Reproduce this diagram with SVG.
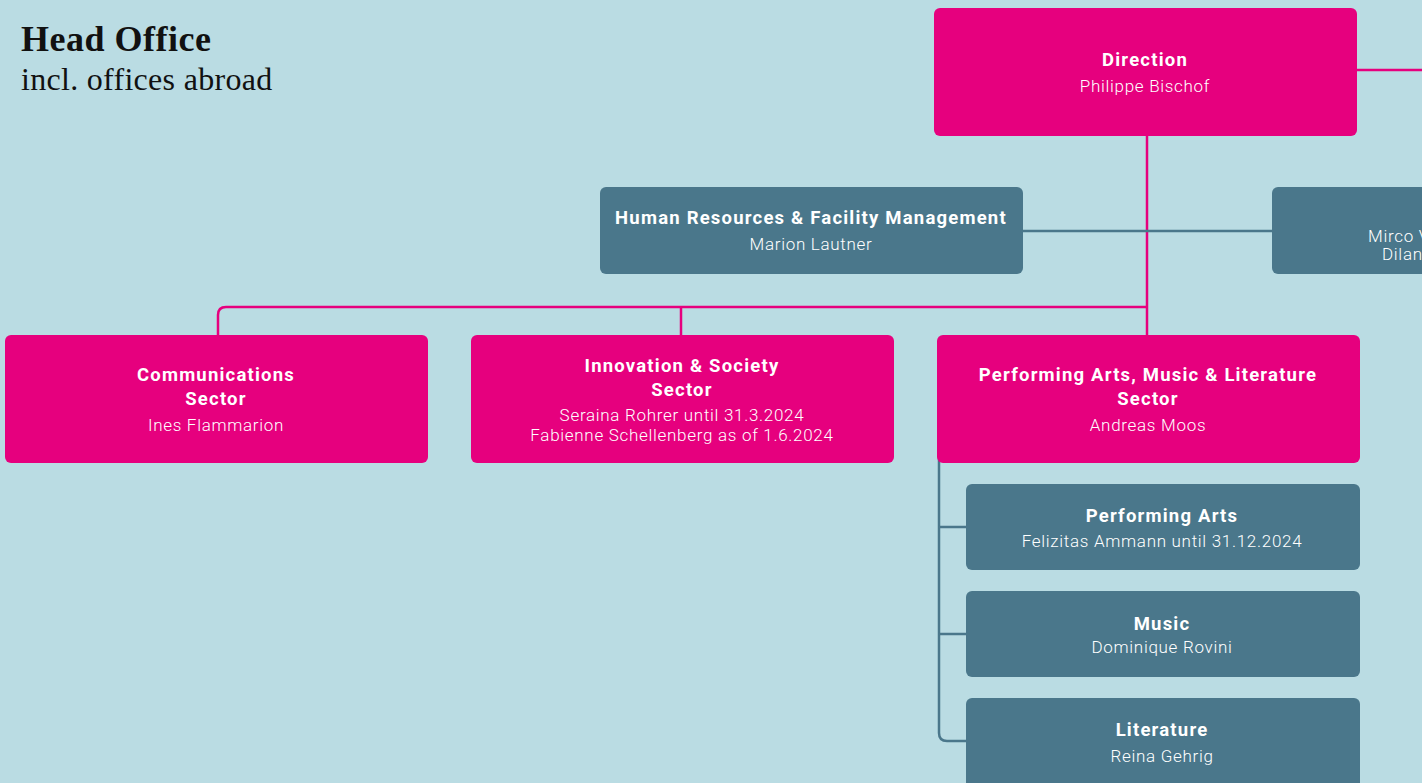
<svg xmlns="http://www.w3.org/2000/svg" width="1422" height="783" viewBox="0 0 1422 783">
<style>
.bg{fill:#BADCE3}
.pink{fill:#E6007E}
.slate{fill:#4A778B}
.lp{fill:none;stroke:#E6007E;stroke-width:2.5}
.ls{fill:none;stroke:#4A778B;stroke-width:2.5}
.t{font-family:Roboto,"Liberation Sans",sans-serif;font-weight:700;font-size:18.5px;fill:#fff;text-anchor:middle;letter-spacing:1.2px}
.n{font-family:Roboto,"Liberation Sans",sans-serif;font-weight:300;font-size:17px;fill:#fff;text-anchor:middle;letter-spacing:0.7px}
.h1{font-family:"Liberation Serif",serif;font-weight:700;font-size:36px;fill:#111;letter-spacing:0.5px}
.h2{font-family:"Liberation Serif",serif;font-size:32px;fill:#111;letter-spacing:0.3px}
</style>
<rect class="bg" x="0" y="0" width="1422" height="783"/>
<g id="heading">
<text class="h1" x="21" y="51">Head Office</text>
<text class="h2" x="21" y="90">incl. offices abroad</text>
</g>
<g id="connectors">
<path class="lp" d="M1357 70 H1422"/>
<path class="lp" d="M1147 136 V335"/>
<path class="lp" d="M1147 307 H226 Q218 307 218 315 V335"/>
<path class="lp" d="M681 307 V335"/>
<path class="ls" d="M1023 231 H1272"/>
<path class="ls" d="M939 450 V733 Q939 741 947 741 H966"/>
<path class="ls" d="M939 527 H966"/>
<path class="ls" d="M939 634 H966"/>
</g>
<g id="direction">
<rect class="pink" x="934" y="8" width="423" height="128" rx="6"/>
<text class="t" x="1145" y="66">Direction</text>
<text class="n" x="1145" y="92">Philippe Bischof</text>
</g>
<g id="hr">
<rect class="slate" x="600" y="187" width="423" height="87" rx="6"/>
<text class="t" x="811" y="224">Human Resources &amp; Facility Management</text>
<text class="n" x="811" y="250">Marion Lautner</text>
</g>
<g id="right-staff">
<rect class="slate" x="1272" y="187" width="170" height="87" rx="6"/>
<text class="n" x="1368" y="242" style="text-anchor:start">Mirco V</text>
<text class="n" x="1382" y="260" style="text-anchor:start">Dilan</text>
</g>
<g id="communications">
<rect class="pink" x="5" y="335" width="423" height="128" rx="6"/>
<text class="t" x="216" y="381">Communications</text>
<text class="t" x="216" y="405">Sector</text>
<text class="n" x="216" y="431">Ines Flammarion</text>
</g>
<g id="innovation">
<rect class="pink" x="471" y="335" width="423" height="128" rx="6"/>
<text class="t" x="682" y="372">Innovation &amp; Society</text>
<text class="t" x="682" y="396">Sector</text>
<text class="n" x="682" y="421">Seraina Rohrer until 31.3.2024</text>
<text class="n" x="682" y="441">Fabienne Schellenberg as of 1.6.2024</text>
</g>
<g id="paml">
<rect class="pink" x="937" y="335" width="423" height="128" rx="6"/>
<text class="t" x="1148" y="381">Performing Arts, Music &amp; Literature</text>
<text class="t" x="1148" y="405">Sector</text>
<text class="n" x="1148" y="431">Andreas Moos</text>
</g>
<g id="performing-arts">
<rect class="slate" x="966" y="484" width="394" height="86" rx="6"/>
<text class="t" x="1162" y="522">Performing Arts</text>
<text class="n" x="1162" y="547">Felizitas Ammann until 31.12.2024</text>
</g>
<g id="music">
<rect class="slate" x="966" y="591" width="394" height="86" rx="6"/>
<text class="t" x="1162" y="630">Music</text>
<text class="n" x="1162" y="653">Dominique Rovini</text>
</g>
<g id="literature">
<rect class="slate" x="966" y="698" width="394" height="92" rx="6"/>
<text class="t" x="1162" y="736">Literature</text>
<text class="n" x="1162" y="762">Reina Gehrig</text>
</g>
</svg>
